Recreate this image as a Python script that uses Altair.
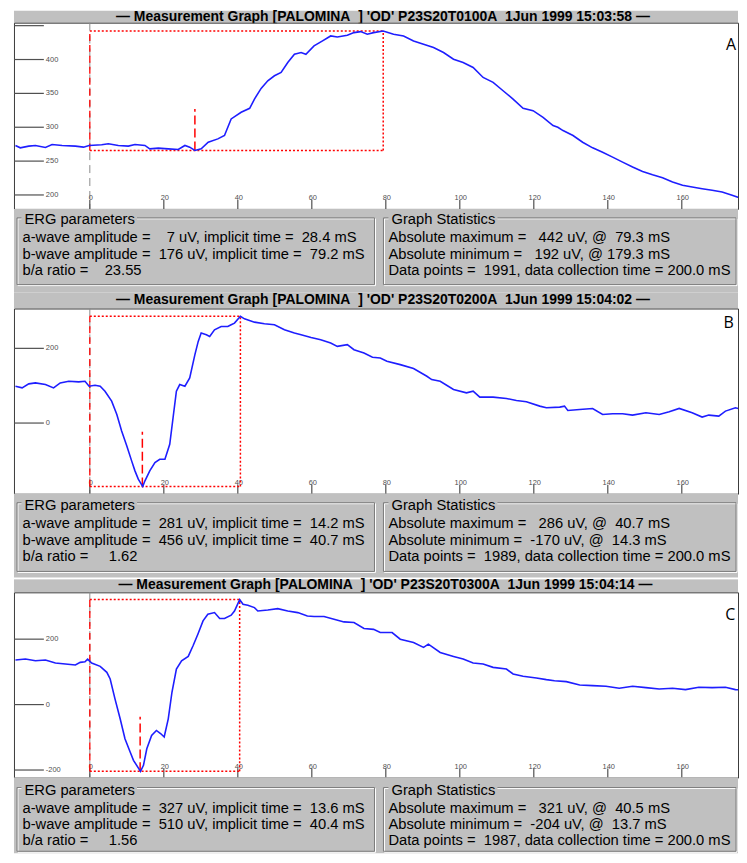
import altair as alt
import pandas as pd

# ---------------- values ----------------
A_ms = [-20.1,-18.8,-16.5,-14.7,-12.0,-10.2,-7.5,-3.9,-1.7,-0.2,3.2,5.0,7.7,10.4,12.2,14.9,16.2,18.5,21.2,23.9,
        25.7,27.0,28.4,30.1,32.0,34.6,36.4,38.2,40.9,43.2,44.5,46.3,48.1,49.9,51.7,53.5,55.3,57.1,58.4,60.6,
        62.9,65.1,66.9,69.6,71.4,73.2,75.0,76.7,79.3,82.1,84.8,87.5,90.2,92.9,95.6,98.3,100.9,103.6,106.3,109.0,
        111.7,114.4,117.1,119.8,122.5,125.2,126.5,127.9,130.6,133.2,135.9,138.6,141.3,144.0,146.7,149.4,152.1,154.8,157.5,160.2,
        162.8,165.5,168.2,170.9,173.6,176.3,177.4]
A_uv = [273.1,269.6,272.1,273.1,270.1,274.6,273.1,272.1,270.6,273.1,274.1,275.5,273.1,272.1,274.6,273.1,268.1,269.1,268.1,267.2,
        273.1,270.6,265.7,268.1,277.9,282.8,287.8,312.3,322.1,327.9,341.6,357.4,368.6,376.0,380.9,395.6,407.8,410.3,407.8,420.1,
        427.5,434.8,433.3,435.8,439.7,441.2,437.3,439.7,442.0,437.3,434.8,427.5,422.5,417.6,410.3,400.5,395.6,388.2,373.5,366.2,
        353.9,341.6,327.9,324.5,314.7,302.5,300.0,295.1,287.8,277.9,269.6,263.2,255.9,248.5,241.2,234.8,229.9,225.5,219.1,214.3,
        211.8,209.3,206.9,204.4,199.6,194.6,193.5]

B_ms = [-20.1,-18.3,-16.5,-14.7,-12.0,-9.8,-8.0,-5.7,-3.0,-1.3,-0.2,1.4,2.8,4.1,5.9,7.3,8.6,10.0,11.3,12.2,
        13.1,14.3,14.9,16.2,17.6,18.9,20.3,21.6,22.5,23.4,24.3,25.7,27.0,28.4,29.3,30.1,31.5,32.4,33.7,35.5,
        37.3,38.2,39.1,40.7,41.8,44.5,47.2,49.9,52.6,55.3,57.1,59.8,62.4,65.1,66.9,69.6,71.4,74.1,76.4,78.5,
        80.3,83.9,87.5,91.1,92.4,94.7,98.3,101.8,103.6,105.4,109.0,112.6,115.3,118.0,121.6,123.4,127.0,128.3,129.2,132.4,
        135.9,138.6,141.3,144.0,146.7,150.3,153.9,156.6,159.3,162.8,165.5,167.3,170.0,171.8,174.5,177.2]
B_uv = [98.7,94.2,104.9,107.5,103.1,94.2,107.5,112.0,110.2,112.0,98.7,101.3,98.7,85.3,58.7,23.1,-21.3,-61.3,-101.3,-128.0,
        -150.2,-170.0,-154.7,-128.0,-105.8,-96.9,-96.9,-56.9,14.2,85.3,103.1,98.7,120.9,183.1,218.7,240.9,236.4,232.0,249.8,258.7,
        258.7,263.1,267.6,286.0,279.1,270.2,265.8,263.1,249.8,240.9,236.4,229.3,223.1,214.2,205.3,209.8,196.4,187.6,176.0,174.2,
        165.3,156.4,145.8,125.3,116.4,112.0,89.8,80.9,85.3,69.3,69.3,65.8,60.4,56.9,45.3,40.9,42.7,45.3,33.8,36.4,
        39.1,23.1,24.9,24.9,21.3,27.6,23.1,30.2,39.1,27.6,16.0,21.3,18.7,32.0,40.9,33.8]

C_ms = [-20.1,-17.4,-14.7,-12.0,-9.3,-6.6,-3.9,-2.6,-1.3,-0.6,0.5,2.8,4.6,5.5,6.8,8.2,9.5,10.9,11.8,13.7,
        14.5,15.4,16.7,18.0,19.2,20.1,21.2,22.2,23.4,24.8,26.6,27.9,29.2,30.6,31.9,33.7,35.1,36.4,38.2,39.1,
        40.5,41.4,42.7,44.5,45.4,48.1,50.8,53.5,56.2,58.8,60.6,63.3,66.0,68.7,71.4,74.1,76.7,78.5,81.7,83.9,
        87.5,90.2,91.5,94.7,98.3,100.9,103.6,106.3,109.0,112.6,114.4,117.1,120.7,123.4,125.6,128.8,132.4,135.9,139.5,143.1,
        146.7,150.3,153.9,157.5,161.0,164.6,168.2,171.8,174.5,177.2]
C_uv = [136.1,139.1,134.0,136.1,126.9,123.9,120.9,129.0,131.0,139.1,126.9,116.8,98.6,78.2,17.4,-43.5,-104.4,-145.0,-170.4,-204.0,
        -185.6,-134.9,-94.4,-79.1,-89.2,-99.2,-43.5,37.7,108.7,134.0,147.3,179.7,215.2,255.8,276.1,281.2,263.0,263.0,273.1,286.1,
        321.0,306.5,303.5,296.4,286.1,289.2,293.4,286.1,281.2,271.0,269.1,269.1,260.9,252.7,250.7,232.5,230.0,220.3,220.3,200.0,
        189.9,174.7,184.8,159.4,147.3,139.1,126.9,123.9,113.8,108.7,93.5,86.4,81.3,76.2,73.1,70.1,60.0,57.9,55.9,49.8,
        55.9,51.9,47.8,49.8,45.7,52.9,51.9,52.9,45.7,44.7]

XTICKS = [0, 20, 40, 60, 80, 100, 120, 140, 160]
XTICK_LABELS = ["0", "20", "40", "60", "80", "100", "120", "140", "160"]
A_YTICKS = [200, 250, 300, 350, 400, 450]
A_YLABELS = ["200", "250", "300", "350", "400", ""]
B_YTICKS = [0, 200]
B_YLABELS = ["0", "200"]
C_YTICKS = [-200, 0, 200]
C_YLABELS = ["-200", "0", "200"]

# analysis window [t0, t1, v_low, v_high] and a-wave marker [t, v_low, v_high]
A_RECT = [0, 79.3, 265.7, 442.0]
A_MARK = [28.4, 265.7, 327.0]
B_RECT = [0, 40.7, -170.0, 286.0]
B_MARK = [14.2, -170.0, -23.0]
C_RECT = [0, 40.5, -204.0, 321.0]
C_MARK = [13.6, -204.0, -37.0]

TITLES = [
    "\u2014 Measurement Graph [PALOMINA  ] 'OD' P23S20T0100A  1Jun 1999 15:03:58 \u2014",
    "\u2014 Measurement Graph [PALOMINA  ] 'OD' P23S20T0200A  1Jun 1999 15:04:02 \u2014",
    "\u2014 Measurement Graph [PALOMINA  ] 'OD' P23S20T0300A  1Jun 1999 15:04:14 \u2014",
]
PANEL_LABELS = ["A", "B", "C"]

ERG_A = ["a-wave amplitude =    7 uV, implicit time =  28.4 mS",
         "b-wave amplitude =  176 uV, implicit time =  79.2 mS",
         "b/a ratio =    23.55"]
STAT_A = ["Absolute maximum =   442 uV, @  79.3 mS",
          "Absolute minimum =   192 uV, @ 179.3 mS",
          "Data points =  1991, data collection time = 200.0 mS"]
ERG_B = ["a-wave amplitude =  281 uV, implicit time =  14.2 mS",
         "b-wave amplitude =  456 uV, implicit time =  40.7 mS",
         "b/a ratio =     1.62"]
STAT_B = ["Absolute maximum =   286 uV, @  40.7 mS",
          "Absolute minimum =  -170 uV, @  14.3 mS",
          "Data points =  1989, data collection time = 200.0 mS"]
ERG_C = ["a-wave amplitude =  327 uV, implicit time =  13.6 mS",
         "b-wave amplitude =  510 uV, implicit time =  40.4 mS",
         "b/a ratio =     1.56"]
STAT_C = ["Absolute maximum =   321 uV, @  40.5 mS",
          "Absolute minimum =  -204 uV, @  13.7 mS",
          "Data points =  1987, data collection time = 200.0 mS"]

# ---------------- styling / layout ----------------
W = 727                      # keeps the whole SVG inside the 731px page body
PX_PER_MS = 3.715
X_DOMAIN = [-20.5, -20.5 + W / PX_PER_MS]
FONT = "Liberation Sans, Arial, sans-serif"
GRAY = "#c0c0c0"
BLUE = "#1e1eff"
RED = "#ff0000"
TICK = "#505050"
PFONT = 14.8


def nb(s):
    return s.replace(" ", "\u00a0")


def title_chart(text, h, ty, tx):
    df = pd.DataFrame({"t": [nb(text)]})
    return alt.Chart(df).mark_text(
        font=FONT, fontSize=14, fontWeight="bold", color="black",
        align="center", baseline="middle"
    ).encode(text="t:N", x=alt.value(tx), y=alt.value(ty)).properties(
        width=W, height=h, view={"fill": GRAY, "strokeWidth": 0}
    )


def plot_chart(ms, uv, ydom, h, yticks, ylabels, rect, mark, label, lpos):
    xsc = alt.Scale(domain=X_DOMAIN, nice=False, zero=False)
    ysc = alt.Scale(domain=ydom, nice=False, zero=False)

    def X(f):
        return alt.X(f, type="quantitative", scale=xsc, axis=None)

    def Y(f):
        return alt.Y(f, type="quantitative", scale=ysc, axis=None)

    trace = pd.DataFrame({"ms": ms, "uv": uv})
    line = alt.Chart(trace).mark_line(color=BLUE, strokeWidth=1.6, clip=True).encode(
        x=X("ms"), y=Y("uv"))

    zero = alt.Chart(pd.DataFrame({"x": [0.0]})).mark_rule(
        color="#8a8a8a", strokeDash=[8, 5], strokeWidth=1).encode(
        x=X("x"), y=alt.value(0), y2=alt.value(h))

    t0, t1, v0, v1 = rect
    seg = pd.DataFrame({"x": [t0, t0, t1], "x2": [t1, t1, t1],
                        "y": [v1, v0, v0], "y2": [v1, v0, v1]})
    dotted = alt.Chart(seg).mark_rule(color=RED, strokeDash=[2, 2], strokeWidth=1.5).encode(
        x=X("x"), x2=alt.X2("x2"), y=Y("y"), y2=alt.Y2("y2"))
    left = alt.Chart(pd.DataFrame({"x": [t0], "y": [v0], "y2": [v1]})).mark_rule(
        color=RED, strokeDash=[7, 4], strokeWidth=1.3).encode(
        x=X("x"), y=Y("y"), y2=alt.Y2("y2"))
    mk = alt.Chart(pd.DataFrame({"x": [mark[0]], "y": [mark[1]], "y2": [mark[2]]})).mark_rule(
        color=RED, strokeDash=[9, 4], strokeWidth=1.5).encode(
        x=X("x"), y=Y("y"), y2=alt.Y2("y2"))

    ydf = pd.DataFrame({"v": yticks, "lab": ylabels})
    ytick = alt.Chart(ydf).mark_rule(color=TICK, strokeWidth=1.2).encode(
        y=Y("v"), x=alt.value(0), x2=alt.value(30))
    ylab = alt.Chart(ydf).mark_text(font=FONT, fontSize=7.5, color=TICK, align="left",
                                    baseline="middle").encode(
        y=Y("v"), x=alt.value(32), text="lab:N")

    xdf = pd.DataFrame({"v": XTICKS, "lab": XTICK_LABELS})
    xtick = alt.Chart(xdf).mark_rule(color=TICK, strokeWidth=1.2).encode(
        x=X("v"), y=alt.value(h - 9), y2=alt.value(h))
    xlab = alt.Chart(xdf).mark_text(font=FONT, fontSize=7.5, color=TICK, align="center",
                                    baseline="middle", dx=1).encode(
        x=X("v"), y=alt.value(h - 11), text="lab:N")

    lab = alt.Chart(pd.DataFrame({"t": [label]})).mark_text(
        font="Open Sans, Liberation Sans, sans-serif", fontSize=16, color="black",
        align="center", baseline="middle").encode(
        x=alt.value(lpos[0]), y=alt.value(lpos[1]), text="t:N")

    return alt.layer(zero, ytick, ylab, xtick, xlab, dotted, left, mk, line, lab).properties(
        width=W, height=h, view={"fill": "white", "stroke": "#3a3a3a", "strokeWidth": 1})


ERG_TITLE_W = 7.502 * PFONT
GS_TITLE_W = 7.058 * PFONT


def params_chart(erg, stats, h, lay, strip=False):
    top, bot = lay["top"], lay["bot"]
    boxes = [(3, 362, 10.5, ERG_TITLE_W, "ERG parameters", 8.5, erg),
             (371, W - 2, 379.0, GS_TITLE_W, "Graph Statistics", 376.0, stats)]
    sx, sx2, sy, sy2, sc = [], [], [], [], []
    tx, ty, tt = [], [], []
    for (x0, x1, ttx, tw, ttl, rx, rows) in boxes:
        for d, col in [(1, "#ffffff"), (0, "#7c7c7c")]:
            for a, b, c, e in [(x0 + d, ttx - 3, top + d, top + d),
                               (ttx + tw + 2, x1 + d, top + d, top + d),
                               (x0 + d, x0 + d, top + d, bot + d),
                               (x1 + d, x1 + d, top + d, bot + d),
                               (x0 + d, x1 + d, bot + d, bot + d)]:
                sx.append(a); sx2.append(b); sy.append(c); sy2.append(e); sc.append(col)
        tx.append(ttx); ty.append(lay["title_y"]); tt.append(nb(ttl))
        for yy, r in zip(lay["rows"], rows):
            tx.append(rx); ty.append(yy); tt.append(nb(r))
    segs = pd.DataFrame({"x": sx, "x2": sx2, "y": sy, "y2": sy2, "c": sc})
    rules = alt.Chart(segs).mark_rule(strokeWidth=1).encode(
        x=alt.X("x:Q", scale=None, axis=None), x2="x2:Q",
        y=alt.Y("y:Q", scale=None, axis=None), y2="y2:Q",
        color=alt.Color("c:N", scale=None))
    texts = alt.Chart(pd.DataFrame({"x": tx, "y": ty, "t": tt})).mark_text(
        font=FONT, fontSize=PFONT, color="black", align="left", baseline="middle").encode(
        x=alt.X("x:Q", scale=None, axis=None), y=alt.Y("y:Q", scale=None, axis=None), text="t:N")
    layers = [rules, texts]
    if strip:
        wdf = pd.DataFrame({"x": [0], "x2": [W], "y": [h - 2], "y2": [h]})
        layers.append(alt.Chart(wdf).mark_rect(color="white").encode(
            x=alt.X("x:Q", scale=None, axis=None), x2="x2:Q",
            y=alt.Y("y:Q", scale=None, axis=None), y2="y2:Q"))
    return alt.layer(*layers).properties(width=W, height=h, view={"fill": GRAY, "strokeWidth": 0})


LAY_A = {"top": 9, "title_y": 11.5, "rows": [29.5, 46, 62], "bot": 76}
LAY_B = {"top": 9, "title_y": 12, "rows": [30.5, 47.5, 64], "bot": 78}
LAY_C = {"top": 10, "title_y": 13, "rows": [32, 48, 64], "bot": 74}

chart = alt.vconcat(
    title_chart(TITLES[0], 12, 6.5, 370.5),
    plot_chart(A_ms, A_uv, [179.4, 454.4], 187, A_YTICKS, A_YLABELS, A_RECT, A_MARK,
               PANEL_LABELS[0], (720.0, 22.7)),
    params_chart(ERG_A, STAT_A, 84, LAY_A),
    title_chart(TITLES[1], 16, 7.5, 370.5),
    plot_chart(B_ms, B_uv, [-189.3, 306.7], 186, B_YTICKS, B_YLABELS, B_RECT, B_MARK,
               PANEL_LABELS[1], (717.7, 14.7)),
    params_chart(ERG_B, STAT_B, 86, LAY_B, strip=True),
    title_chart(TITLES[2], 13, 5.5, 373),
    plot_chart(C_ms, C_uv, [-223.1, 343.1], 186, C_YTICKS, C_YLABELS, C_RECT, C_MARK,
               PANEL_LABELS[2], (719.3, 23.0)),
    params_chart(ERG_C, STAT_C, 76, LAY_C),
    spacing=0, bounds="flush",
).properties(
    padding={"left": 4, "top": 0, "right": 0, "bottom": 0}
).configure(background="white").configure_view(strokeWidth=0)

chart.save("out.html", embed_options={"renderer": "svg", "actions": False})
